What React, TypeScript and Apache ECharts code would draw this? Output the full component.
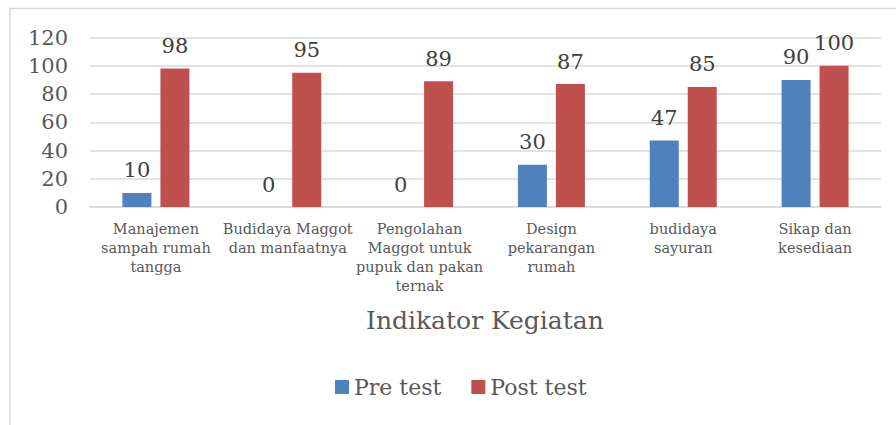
import React, { useEffect, useRef } from "react";
import * as echarts from "echarts";

const categories = [
  "Manajemen\nsampah rumah\ntangga",
  "Budidaya Maggot\ndan manfaatnya",
  "Pengolahan\nMaggot untuk\npupuk dan pakan\nternak",
  "Design\npekarangan\nrumah",
  "budidaya\nsayuran",
  "Sikap dan\nkesediaan",
];
const preTest = [10, 0, 0, 30, 47, 90];
const postTest = [98, 95, 89, 87, 85, 100];
const yTicks = { min: 0, max: 120, interval: 20 };
const axisTitle = "Indikator Kegiatan";
const seriesNames = ["Pre test", "Post test"];

const FONT = "DejaVu Serif";

export default function App() {
  const ref = useRef<HTMLDivElement>(null);
  useEffect(() => {
    document.body.style.margin = "0";
    const chart = echarts.init(ref.current!, null, { renderer: "svg" });
    const label = {
      show: true,
      position: "top",
      distance: 12,
      fontFamily: FONT,
      fontSize: 21,
      color: "#404040",
    };
    chart.setOption({
      animation: false,
      textStyle: { fontFamily: FONT },
      graphic: [
        {
          type: "rect",
          shape: { x: 10, y: 8.5, width: 900, height: 430 },
          style: { fill: "none", stroke: "#d9d9d9", lineWidth: 1.5 },
          silent: true,
        },
      ],
      title: {
        text: axisTitle,
        left: 366,
        top: 308,
        padding: 0,
        textStyle: { fontFamily: FONT, fontSize: 25, fontWeight: "normal", color: "#595959" },
      },
      legend: {
        data: seriesNames,
        left: 335,
        top: 376,
        itemWidth: 14,
        itemHeight: 14,
        itemGap: 30,
        padding: 0,
        icon: "rect",
        textStyle: { fontFamily: FONT, fontSize: 22, color: "#595959" },
      },
      grid: { left: 90, right: 15, top: 37.5, bottom: 218 },
      xAxis: {
        type: "category",
        data: categories,
        axisLine: { lineStyle: { color: "#d9d9d9", width: 1.5 } },
        axisTick: { show: false },
        axisLabel: {
          interval: 0,
          margin: 12,
          fontFamily: FONT,
          fontSize: 14.5,
          lineHeight: 19,
          color: "#595959",
        },
      },
      yAxis: {
        type: "value",
        min: yTicks.min,
        max: yTicks.max,
        interval: yTicks.interval,
        axisLine: { show: false },
        axisTick: { show: false },
        splitLine: { lineStyle: { color: "#d9d9d9", width: 1.5 } },
        axisLabel: { margin: 22, fontFamily: FONT, fontSize: 21, color: "#595959" },
      },
      series: [
        {
          name: seriesNames[0],
          type: "bar",
          data: preTest,
          barWidth: 29,
          barGap: "31%",
          itemStyle: { color: "#4f81bd" },
          label,
        },
        {
          name: seriesNames[1],
          type: "bar",
          data: postTest,
          barWidth: 29,
          barGap: "31%",
          itemStyle: { color: "#c0504d" },
          label,
        },
      ],
    });
    return () => chart.dispose();
  }, []);
  return <div ref={ref} style={{ width: 896, height: 425 }} />;
}
